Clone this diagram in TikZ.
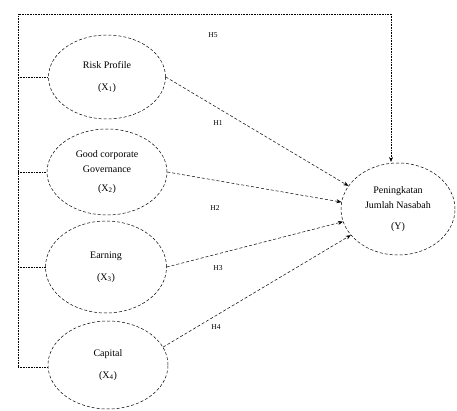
\documentclass[tikz,border=0pt]{standalone}
\usepackage{fontspec}
\setmainfont{Liberation Serif}
\usetikzlibrary{shapes.geometric,arrows.meta}
\begin{document}
\begin{tikzpicture}[x=1pt,y=-1pt,
  var/.style={ellipse,draw,densely dashed,line width=0.5pt,inner sep=0pt,align=center,font=\fontsize{10}{22}\selectfont},
  link/.style={densely dashed,line width=0.5pt,-{Stealth[length=5pt,width=4pt]}},
  frame/.style={densely dotted,line width=0.6pt},
  lab/.style={font=\fontsize{7.5}{8}\selectfont}]
\useasboundingbox (0,0) rectangle (457,411);
\node[var,minimum width=117pt,minimum height=84pt] (X1) at (107,77) {Risk Profile\\(X\textsubscript{1})};
\node[var,minimum width=120pt,minimum height=86pt,font=\fontsize{10}{15}\selectfont] (X2) at (107,172) {Good corporate\\Governance\\[4pt](X\textsubscript{2})};
\node[var,minimum width=121pt,minimum height=92pt] (X3) at (106,267) {Earning\\(X\textsubscript{3})};
\node[var,minimum width=120pt,minimum height=88pt] (X4) at (108,365) {Capital\\(X\textsubscript{4})};
\node[var,minimum width=114pt,minimum height=92pt,font=\fontsize{10}{15}\selectfont] (Y) at (398,209) {Peningkatan\\Jumlah Nasabah\\[6pt](Y)};
\coordinate (TL) at (18,14);
\coordinate (TR) at (391,14);
\coordinate (BL) at (18,367);
\draw[frame] (BL) -- (TL) -- (TR);
\draw[frame,-{Stealth[length=5pt,width=4pt]}] (TR) -- ([yshift=1pt]TR |- Y.97);
\draw[frame] (TL |- X1.west) -- (X1.west);
\draw[frame] (TL |- X2.west) -- (X2.west);
\draw[frame] (TL |- X3.west) -- (X3.west);
\draw[frame] (BL) -- (BL -| X4.west);
\draw[link] (X1.east) -- (Y.155);
\draw[link] (X2.east) -- (Y.173);
\draw[link] (X3.east) -- (Y.193);
\draw[link] (X4.18) -- (Y.209);
\node[lab] (H5) at (213,35) {H5};
\node[lab] (H1) at (218,123) {H1};
\node[lab] (H2) at (215,208) {H2};
\node[lab] (H3) at (218,268) {H3};
\node[lab] (H4) at (216,327) {H4};
\end{tikzpicture}
\end{document}
